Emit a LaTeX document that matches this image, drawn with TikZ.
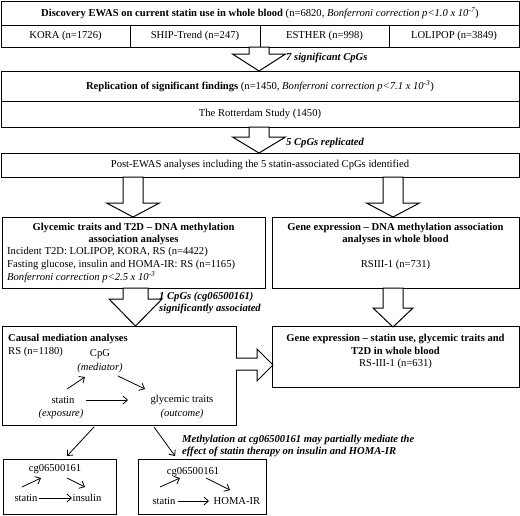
\documentclass[tikz,border=0pt]{standalone}
\usepackage{fontspec}
\setmainfont{Liberation Serif}
\usetikzlibrary{positioning,arrows.meta}

% hollow block arrow pointing down: x, top, head base, tip, stem half, head half
\newcommand{\hollowdown}[6]{%
  \draw[hollow] (#1-#5,#2) -- (#1+#5,#2) -- (#1+#5,#3) -- (#1+#6,#3)
    -- (#1,#4) -- (#1-#6,#3) -- (#1-#5,#3) -- cycle;}

\tikzset{
  box/.style={draw, line width=1pt, inner sep=0pt, outer sep=0pt, anchor=north west},
  hollow/.style={draw, line width=1pt, fill=white, line join=miter},
  note/.style={font=\bfseries\itshape, anchor=west, inner sep=0pt, align=left},
  link/.style={->, line width=0.8pt},
  >={Straight Barb[length=4.5pt,width=8pt,line width=0.8pt]},
}

\begin{document}
\fontsize{10.6}{12.6}\selectfont
\begin{tikzpicture}[x=1pt,y=-1pt]
\useasboundingbox (0,0) rectangle (520,515);

% discovery
\node[box, minimum width=518pt, minimum height=24pt] (disc) at (1,1)
  {\textbf{Discovery EWAS on current statin use in whole blood} (n=6820, \textit{Bonferroni correction p<1.0 x 10\textsuperscript{-7}})};
\node[box, minimum width=129pt, minimum height=22pt] (kora) at (1,25) {KORA (n=1726)};
\node[box, minimum width=130pt, minimum height=22pt, right=0pt of kora] (ship) {SHIP-Trend (n=247)};
\node[box, minimum width=129pt, minimum height=22pt, right=0pt of ship] (esther) {ESTHER (n=998)};
\node[box, minimum width=130pt, minimum height=22pt, right=0pt of esther] (lolipop) {LOLIPOP (n=3849)};

\hollowdown{259}{47}{54}{71}{10}{26.5}
\node[note] (sig7) at (286,58) {7 significant CpGs};

% replication
\node[box, minimum width=518pt, minimum height=30pt] (repl) at (1,71)
  {\textbf{Replication of significant findings} (n=1450, \textit{Bonferroni correction p<7.1 x 10\textsuperscript{-3}})};
\node[box, minimum width=518pt, minimum height=26pt] (rott) at (1,101) {The Rotterdam Study (1450)};

\hollowdown{259}{127}{137}{153}{10}{26.5}
\node[note] (rep5) at (286,143) {5 CpGs replicated};

% post-EWAS
\node[box, minimum width=518pt, minimum height=24pt] (post) at (1,153)
  {Post-EWAS analyses including the 5 statin-associated CpGs identified};

\hollowdown{133}{177}{203}{217}{10}{26.5}
\hollowdown{393}{177}{203}{217}{10}{26.5}

% glycemic traits
\node[box, minimum width=263pt, minimum height=71pt] (glyc) at (2,217) {};
\node[font=\bfseries, align=center] (glyctitle) at (133.5,234)
  {Glycemic traits and T2D -- DNA methylation\\association analyses};
\node[anchor=west, inner sep=0pt, align=left] (glycdata) at (7,265)
  {Incident T2D: LOLIPOP, KORA, RS (n=4422)\\
   Fasting glucose, insulin and HOMA-IR: RS (n=1165)\\
   \textit{Bonferroni correction p<2.5 x 10\textsuperscript{-3}}};

% gene expression 1
\node[box, minimum width=247pt, minimum height=71pt] (gene1) at (272,217) {};
\node[font=\bfseries, align=center] (gene1title) at (395.5,234)
  {Gene expression -- DNA methylation association\\analyses in whole blood};
\node (gene1data) at (395.5,265) {RSIII-1 (n=731)};

\hollowdown{135.5}{288}{299}{326}{12.5}{26.5}
\node[note] (cpg1) at (159,303) {1 CpGs (cg06500161)\\significantly associated};
\hollowdown{393}{288}{308}{327}{10}{20}

% causal mediation
\node[box, minimum width=234pt, minimum height=99pt] (causal) at (2,326) {};
\node[anchor=west, inner sep=0pt, align=left] (causaltitle) at (8,345.5)
  {\textbf{Causal mediation analyses}\\RS (n=1180)};
\node (cpg) at (100,354) {CpG};
\node[font=\itshape] (medi) at (100,368) {(mediator)};
\node (stat) at (63,400) {statin};
\node[font=\itshape] (expo) at (61,414) {(exposure)};
\node (glyt) at (182,400) {glycemic traits};
\node[font=\itshape] (outc) at (182,414) {(outcome)};
\draw[link] ([shift={(4pt,11pt)}]stat.center) -- ([shift={(-15pt,-9pt)}]medi.center);
\draw[link] ([shift={(18pt,-8pt)}]medi.center) -- ([shift={(-37pt,11pt)}]glyt.center);
\draw[link] ([xshift=23pt]stat.center) -- ([xshift=-54pt]glyt.center);

% gene expression 2
\node[box, minimum width=247pt, minimum height=61pt] (gene2) at (272,326) {};
\node[align=center] (gene2text) at (395.5,351.5)
  {\textbf{Gene expression -- statin use, glycemic traits and}\\\textbf{T2D in whole blood}\\RS-III-1 (n=631)};

\draw[hollow] (236,358) -- (257,358) -- (257,349) -- (273,365) -- (257,381) -- (257,370) -- (236,370);

% results
\node[box, minimum width=113pt, minimum height=55pt] (boxL) at (3,459) {};
\node[box, minimum width=128pt, minimum height=55pt] (boxR) at (138,459) {};
\draw[link] ([shift={(-25pt,-2pt)}]causal.south) -- ([shift={(7.5pt,3pt)}]boxL.north);
\draw[link] ([shift={(35pt,-2pt)}]causal.south) -- ([shift={(-27pt,3pt)}]boxR.north);
\node[note] (meth) at (182,446)
  {Methylation at cg06500161 may partially mediate the\\effect of statin therapy on insulin and HOMA-IR};

\node (cgL) at (55,469) {cg06500161};
\node (statL) at (26,498) {statin};
\node (insL) at (87,498) {insulin};
\draw[link] ([shift={(-4pt,11pt)}]statL.center) -- ([shift={(-14pt,-9pt)}]cgL.center);
\draw[link] ([shift={(12pt,-9pt)}]cgL.center) -- ([shift={(-2pt,11pt)}]insL.center);
\draw[link] ([xshift=13pt]statL.center) -- ([xshift=-15pt]insL.center);

\node (cgR) at (193,472) {cg06500161};
\node (statR) at (164,501) {statin};
\node (homa) at (237,501) {HOMA-IR};
\draw[link] ([shift={(-4pt,14pt)}]statR.center) -- ([shift={(-13pt,-6pt)}]cgR.center);
\draw[link] ([shift={(13pt,-6pt)}]cgR.center) -- ([shift={(-7pt,11pt)}]homa.center);
\draw[link] ([xshift=14pt]statR.center) -- ([xshift=-28pt]homa.center);
\end{tikzpicture}
\end{document}
